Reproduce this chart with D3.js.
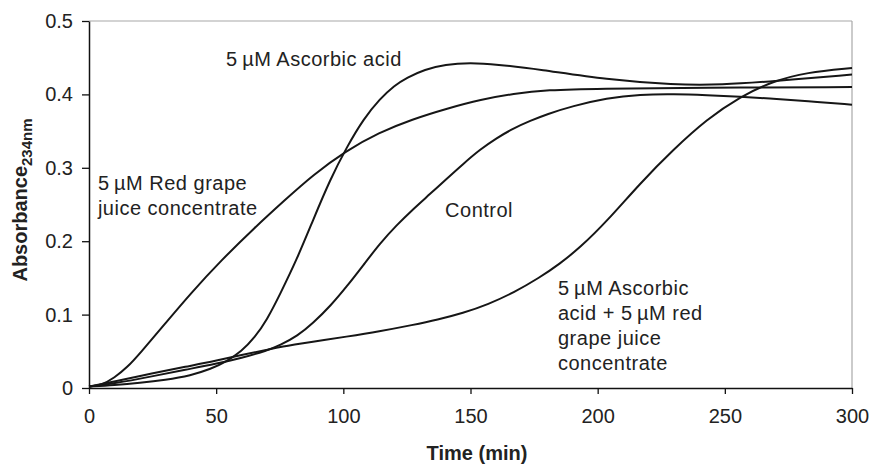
<!DOCTYPE html>
<html>
<head>
<meta charset="utf-8">
<script src="https://cdn.jsdelivr.net/npm/d3@7.9.0/dist/d3.min.js"></script>
<style>
  body { margin: 0; background: #fff; }
  svg text { font-family: "Liberation Sans", Arial, sans-serif; fill: #222; }
</style>
</head>
<body>
<svg id="chart"></svg>
<script>
// values: [time (min), absorbance]
const redGrape = [[0,0.002],[5,0.004],[10,0.014],[15,0.028],[20,0.047],[30,0.088],[40,0.129],[52,0.174],[65,0.218],[77,0.256],[88,0.29],[101,0.323],[114,0.348],[127,0.366],[141,0.381],[154,0.393],[167,0.401],[180,0.406],[200,0.408],[240,0.409],[300,0.41]];
const ascorbic = [[0,0.002],[10,0.004],[20,0.007],[30,0.011],[40,0.017],[48,0.026],[54,0.036],[60,0.05],[65,0.068],[70,0.093],[75,0.127],[81.7,0.175],[88,0.228],[94.8,0.284],[101.3,0.328],[108,0.367],[114.4,0.394],[120,0.412],[125,0.423],[132,0.434],[140,0.441],[150,0.443],[160,0.441],[177,0.434],[203.6,0.42],[229.8,0.413],[249,0.413],[269,0.418],[300,0.427]];
const control = [[0,0.002],[10,0.006],[25,0.016],[38,0.025],[50,0.033],[60,0.041],[70,0.051],[75,0.058],[82,0.071],[88,0.088],[95,0.112],[101.3,0.138],[108,0.168],[114.4,0.197],[121,0.222],[127.5,0.244],[134,0.264],[140.6,0.285],[147,0.305],[153.8,0.325],[160,0.34],[167,0.354],[173.5,0.364],[180,0.373],[190,0.384],[203.6,0.395],[216.7,0.4],[230,0.4006],[243,0.399],[256,0.397],[269,0.394],[282,0.391],[300,0.386]];
const combined = [[0,0.002],[10,0.009],[25,0.02],[38,0.029],[50,0.037],[60,0.045],[70,0.052],[75,0.056],[88,0.063],[101.3,0.07],[114,0.077],[127.5,0.086],[137,0.093],[147,0.102],[157,0.114],[167,0.13],[177,0.15],[185,0.169],[193,0.191],[203.6,0.227],[216.7,0.279],[229.8,0.325],[242.9,0.366],[256,0.397],[269,0.418],[282,0.43],[300,0.436]];

const xTicks = [0, 50, 100, 150, 200, 250, 300];
const yTicks = [0, 0.1, 0.2, 0.3, 0.4, 0.5];
const yTickLabels = ["0", "0.1", "0.2", "0.3", "0.4", "0.5"];

// label text and anchor point in data units
const labels = [
  { lines: ["5\u2009\u00b5M Ascorbic acid"], t: 53.9, a: 0.439 },
  { lines: ["5\u2009\u00b5M Red grape", "juice concentrate"], t: 3.5, a: 0.27 },
  { lines: ["Control"], t: 140, a: 0.233 },
  { lines: ["5\u2009\u00b5M Ascorbic", "acid + 5\u2009\u00b5M red", "grape juice", "concentrate"], t: 184.4, a: 0.127 }
];

const W = 872, H = 464;
const margin = { top: 21, right: 20, bottom: 76, left: 89 };
const width = W - margin.left - margin.right;
const height = H - margin.top - margin.bottom;

const svg = d3.select("#chart").attr("width", W).attr("height", H);
const g = svg.append("g").attr("transform", `translate(${margin.left},${margin.top})`);

const x = d3.scaleLinear().domain([0, 300]).range([0, width]);
const y = d3.scaleLinear().domain([0, 0.5]).range([height, 0]);

// grey frame top and right
g.append("line").attr("x1", 0).attr("x2", width).attr("y1", 0).attr("y2", 0)
  .attr("stroke", "#a8a8a8").attr("stroke-width", 1.2);
g.append("line").attr("x1", width).attr("x2", width).attr("y1", 0).attr("y2", height)
  .attr("stroke", "#a8a8a8").attr("stroke-width", 1.2);

const xAxis = g.append("g")
  .attr("transform", `translate(0,${height})`)
  .call(d3.axisBottom(x).tickValues(xTicks).tickSize(6).tickPadding(15).tickSizeOuter(0));
const yAxis = g.append("g")
  .call(d3.axisLeft(y).tickValues(yTicks).tickFormat((d, i) => yTickLabels[i]).tickSize(7).tickPadding(9).tickSizeOuter(0));

[xAxis, yAxis].forEach(ax => {
  ax.select(".domain").attr("stroke", "#111").attr("stroke-width", 1.5);
  ax.selectAll(".tick line").attr("stroke", "#111").attr("stroke-width", 1.3);
  ax.selectAll(".tick text").style("font-size", "20px").attr("fill", "#222")
    .style("font-family", '"Liberation Sans", Arial, sans-serif');
});

const line = d3.line()
  .x(d => x(d[0]))
  .y(d => y(d[1]))
  .curve(d3.curveBasis);

[redGrape, ascorbic, control, combined].forEach(s => {
  g.append("path")
    .datum(s)
    .attr("fill", "none")
    .attr("stroke", "#161616")
    .attr("stroke-width", 2)
    .attr("d", line);
});

labels.forEach(l => {
  const txt = g.append("text")
    .attr("x", x(l.t))
    .attr("y", y(l.a))
    .style("font-size", "20px")
    .style("letter-spacing", "0.5px");
  l.lines.forEach((s, i) => {
    txt.append("tspan").attr("x", x(l.t)).attr("dy", i === 0 ? 0 : 25).text(s);
  });
});

// axis titles
svg.append("text")
  .attr("x", 477).attr("y", 460)
  .attr("text-anchor", "middle")
  .style("font-size", "20px").style("font-weight", "bold")
  .text("Time (min)");

const yt = svg.append("text")
  .attr("transform", "translate(27,200) rotate(-90)")
  .attr("text-anchor", "middle")
  .style("font-size", "20px").style("font-weight", "bold");
yt.append("tspan").text("Absorbance");
yt.append("tspan").attr("dy", 5).style("font-size", "15px").text("234nm");
</script>
</body>
</html>
